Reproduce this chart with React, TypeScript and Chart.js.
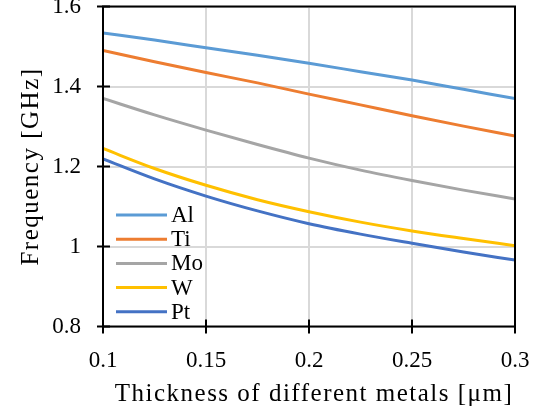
import React, { useEffect, useRef } from 'react';
import { Chart, registerables } from 'chart.js';

Chart.register(...registerables);

const thickness = [0.1, 0.125, 0.15, 0.175, 0.2, 0.225, 0.25, 0.275, 0.3];
const metals = ['Al', 'Ti', 'Mo', 'W', 'Pt'];
const alFreq = [1.534, 1.516, 1.497, 1.478, 1.458, 1.437, 1.416, 1.393, 1.37];
const tiFreq = [1.49, 1.462, 1.435, 1.409, 1.381, 1.354, 1.327, 1.301, 1.276];
const moFreq = [1.37, 1.329, 1.291, 1.255, 1.221, 1.191, 1.165, 1.141, 1.119];
const wFreq = [1.245, 1.195, 1.153, 1.117, 1.087, 1.061, 1.039, 1.02, 1.002];
const ptFreq = [1.219, 1.169, 1.126, 1.089, 1.057, 1.031, 1.008, 0.986, 0.966];
const seriesValues = [alFreq, tiFreq, moFreq, wFreq, ptFreq];
const colors = ['#5B9BD5', '#ED7D31', '#A5A5A5', '#FFC000', '#4472C4'];
const xTicks = [0.1, 0.15, 0.2, 0.25, 0.3];
const yTicks = [0.8, 1, 1.2, 1.4, 1.6];
const xTickLabels = ['0.1', '0.15', '0.2', '0.25', '0.3'];
const yTickLabels = ['0.8', '1', '1.2', '1.4', '1.6'];
const xTitle = 'Thickness of different metals [μm]';
const yTitle = 'Frequency [GHz]';

const FONT = "'Liberation Serif', 'Times New Roman', serif";

const framePlugin = {
  id: 'frame',
  afterDatasetsDraw(chart: any) {
    const { ctx, chartArea } = chart;
    const { left, right, top, bottom } = chartArea;
    const xs = chart.scales.x;
    const ys = chart.scales.y;
    ctx.save();
    // frame
    ctx.strokeStyle = '#000';
    ctx.lineWidth = 2;
    ctx.strokeRect(left, top, right - left, bottom - top);
    // cross ticks
    ctx.beginPath();
    yTicks.forEach((v) => {
      const y = ys.getPixelForValue(v);
      ctx.moveTo(left - 6, y);
      ctx.lineTo(left + 7, y);
    });
    xTicks.forEach((v) => {
      const x = xs.getPixelForValue(v);
      ctx.moveTo(x, bottom - 7);
      ctx.lineTo(x, bottom + 7);
    });
    ctx.stroke();
    // legend
    ctx.font = `23px ${FONT}`;
    ctx.textBaseline = 'middle';
    ctx.textAlign = 'left';
    metals.forEach((name, i) => {
      const y = bottom - 111.5 + i * 24.2;
      ctx.strokeStyle = colors[i];
      ctx.lineWidth = 3;
      ctx.beginPath();
      ctx.moveTo(left + 13, y);
      ctx.lineTo(left + 64, y);
      ctx.stroke();
      ctx.fillStyle = '#000';
      ctx.fillText(name, left + 68, y + 1);
    });
    // axis titles
    ctx.fillStyle = '#000';
    ctx.font = `25px ${FONT}`;
    try { (ctx as any).letterSpacing = '1.5px'; } catch (e) {}
    ctx.textAlign = 'center';
    ctx.textBaseline = 'alphabetic';
    ctx.fillText(xTitle, (left + right) / 2 + 5, bottom + 74.5);
    ctx.translate(left - 65.5, (top + bottom) / 2);
    ctx.rotate(-Math.PI / 2);
    ctx.fillText(yTitle, 0, 0);
    try { (ctx as any).letterSpacing = '0px'; } catch (e) {}
    ctx.restore();
  },
};

export default function App() {
  const ref = useRef<HTMLCanvasElement>(null);
  useEffect(() => {
    if (!ref.current) return;
    const chart = new Chart(ref.current, {
      type: 'line',
      data: {
        datasets: metals.map((name, i) => ({
          label: name,
          data: thickness.map((x, j) => ({ x, y: seriesValues[i][j] })),
          borderColor: colors[i],
          backgroundColor: colors[i],
          borderWidth: 3,
          pointRadius: 0,
          cubicInterpolationMode: 'monotone' as const,
          fill: false,
        })),
      },
      options: {
        animation: false,
        responsive: false,
        devicePixelRatio: 1,
        layout: { padding: { left: 0, right: 28, top: 6.5, bottom: 0 } },
        plugins: { legend: { display: false }, tooltip: { enabled: false } },
        scales: {
          x: {
            type: 'linear',
            min: 0.1,
            max: 0.3,
            afterBuildTicks: (s: any) => { s.ticks = xTicks.map((v) => ({ value: v })); },
            afterFit: (s: any) => {
              s.height = 87.5;
              s.paddingLeft = 0; s.paddingRight = 0; s.paddingTop = 0; s.paddingBottom = 0;
            },
            grid: { color: '#d9d9d9', lineWidth: 2, drawTicks: false },
            border: { display: false },
            ticks: {
              color: '#000',
              padding: 21,
              maxRotation: 0,
              font: { family: FONT, size: 23 },
              callback: (v: any) => xTickLabels[xTicks.indexOf(Number(v))] ?? '',
            },
          },
          y: {
            type: 'linear',
            min: 0.8,
            max: 1.6,
            afterBuildTicks: (s: any) => { s.ticks = yTicks.map((v) => ({ value: v })); },
            afterFit: (s: any) => {
              s.width = 103;
              s.paddingLeft = 0; s.paddingRight = 0; s.paddingTop = 0; s.paddingBottom = 0;
            },
            grid: { color: '#d9d9d9', lineWidth: 2, drawTicks: false },
            border: { display: false },
            ticks: {
              color: '#000',
              padding: 22,
              font: { family: FONT, size: 23 },
              callback: (v: any) => yTickLabels[yTicks.indexOf(Number(v))] ?? '',
            },
          },
        },
      },
      plugins: [framePlugin],
    });
    return () => chart.destroy();
  }, []);
  return (
    <div style={{ position: 'fixed', left: 0, top: 0, width: 543, height: 414, overflow: 'hidden', background: '#fff' }}>
      <canvas
        ref={ref}
        width={543}
        height={414}
        style={{ position: 'absolute', left: 0, top: 0, width: 543, height: 414 }}
      />
    </div>
  );
}
